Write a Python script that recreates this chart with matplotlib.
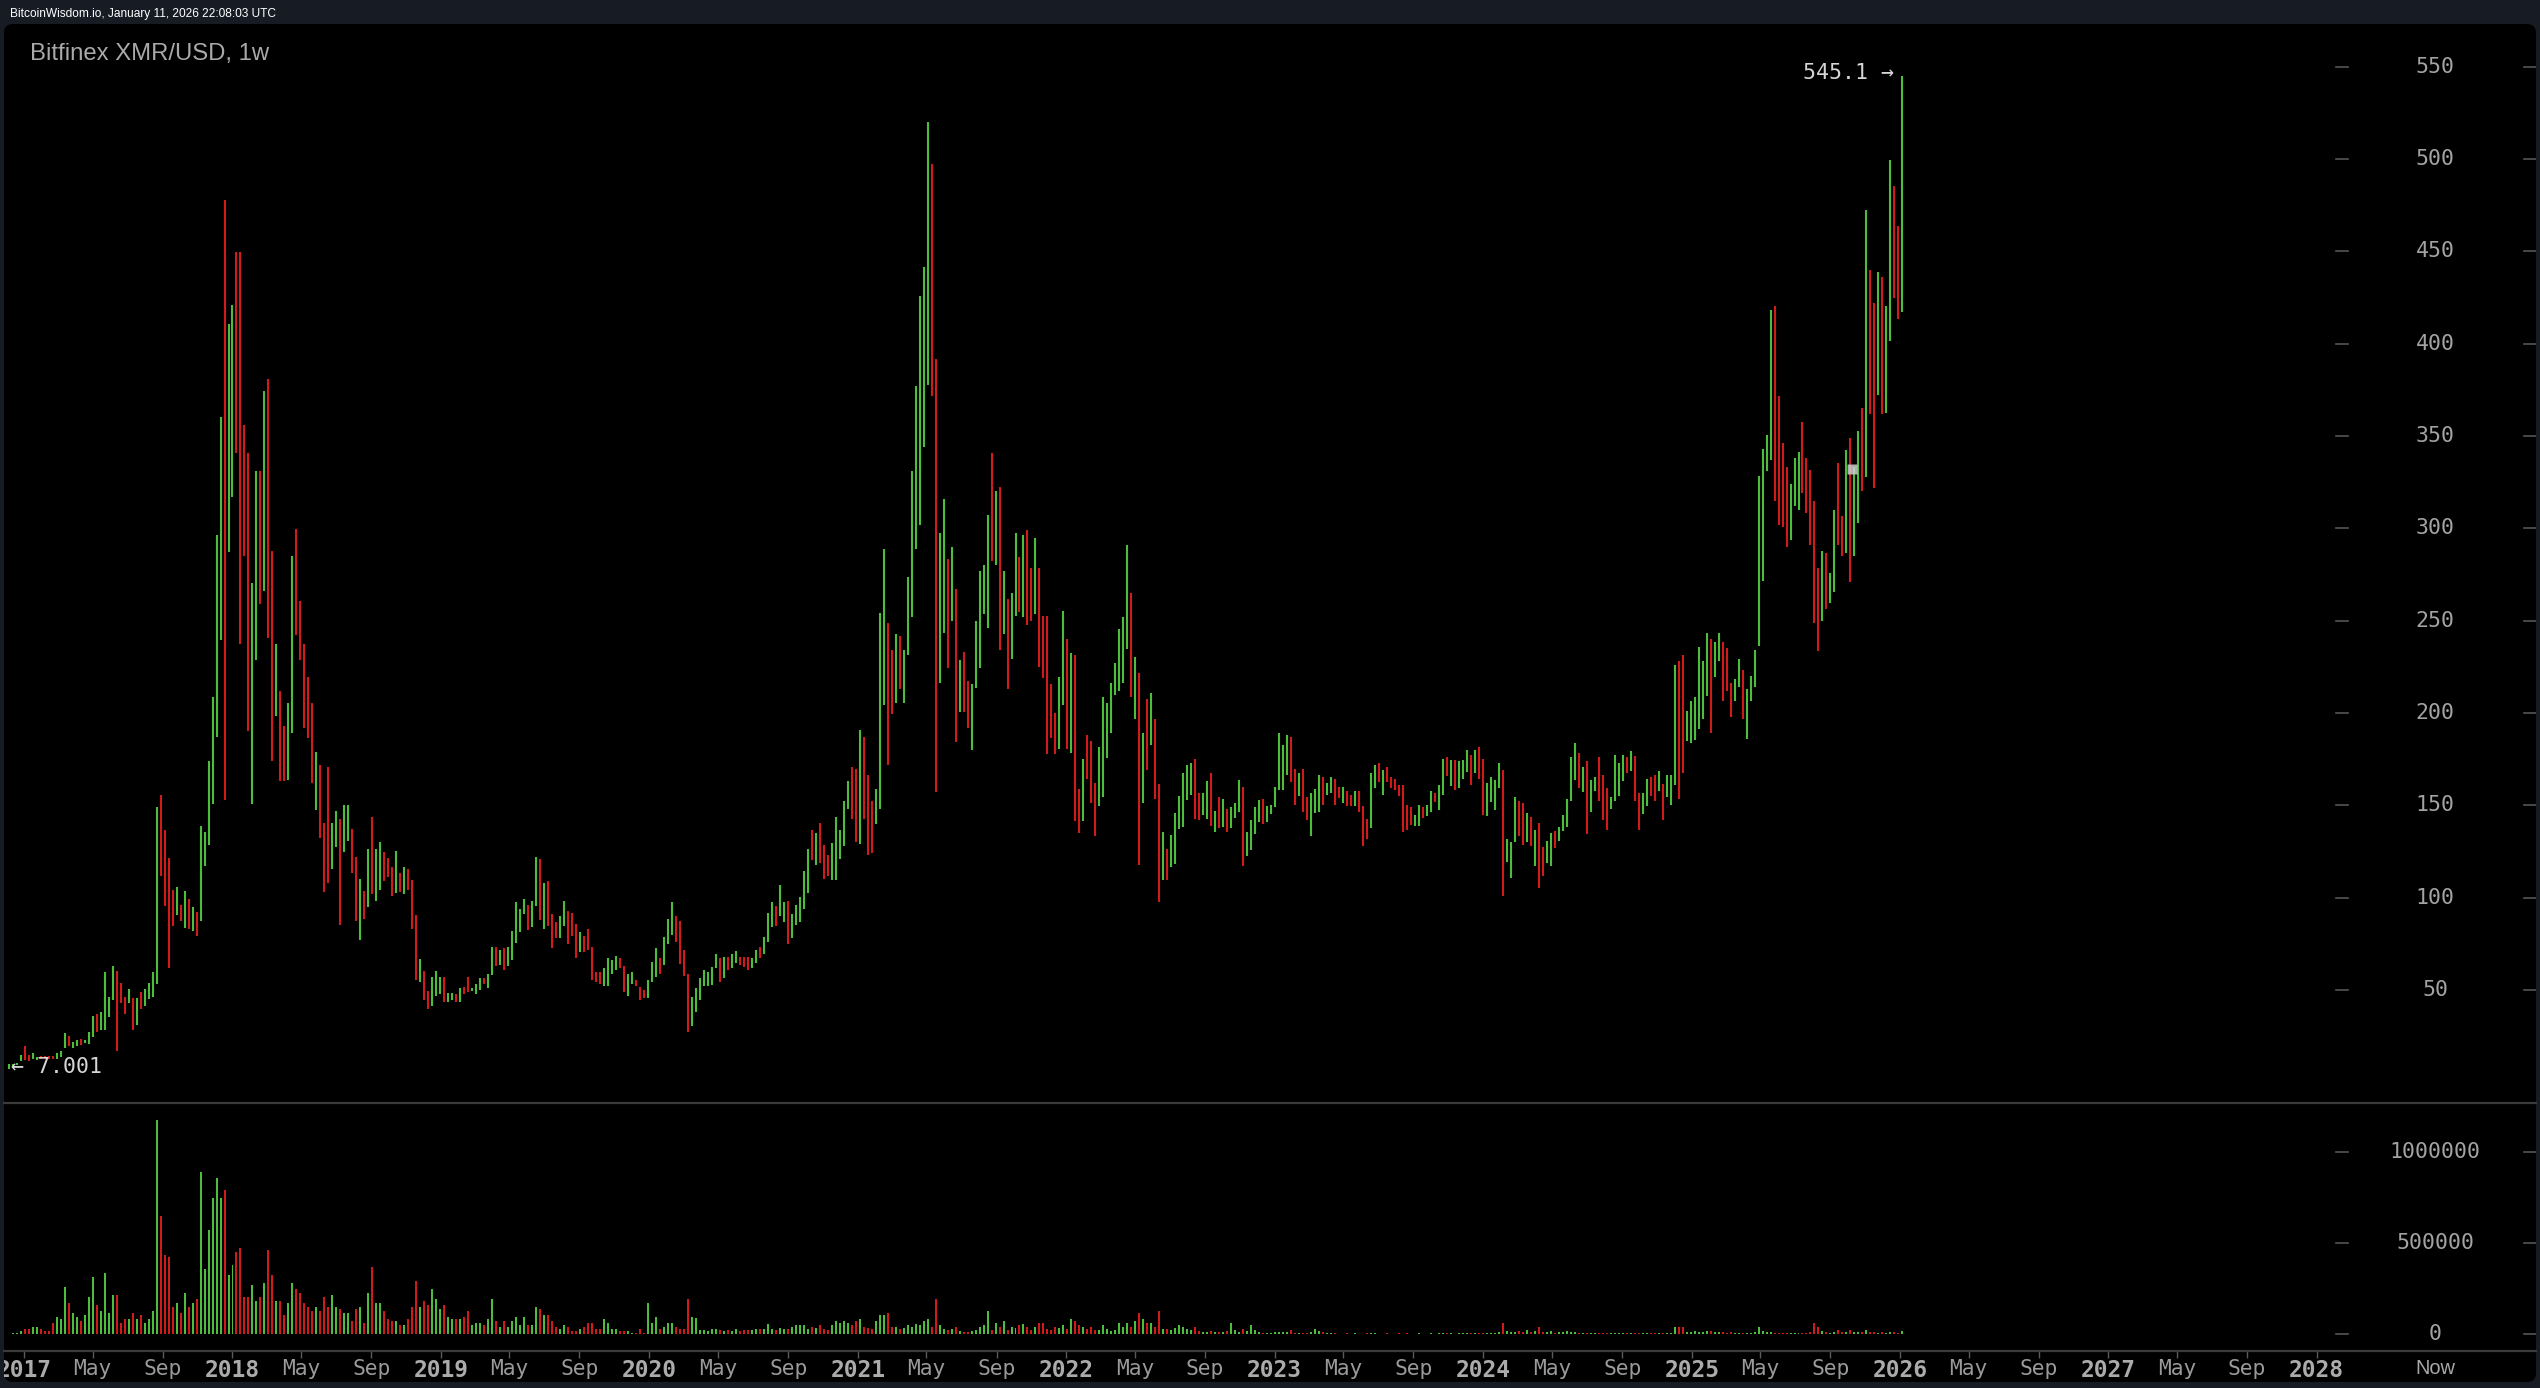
import numpy as np
import matplotlib
matplotlib.use("Agg")
import matplotlib.pyplot as plt
import matplotlib.dates as mdates
from matplotlib.patches import FancyBboxPatch
from matplotlib.transforms import Bbox, TransformedBbox, blended_transform_factory

# weekly bars of Bitfinex XMR/USD, first bar = week of 2016-12-05
first_week = '2016-12-05'

highs = [
    9.8, 10.0, 10.3, 14.8, 19.6, 14.8, 16.0, 13.8, 14.2, 14.2,
    14.0, 14.0, 16.0, 17.0, 26.6, 25.0, 21.8, 22.8, 23.4, 22.8,
    27.3, 35.6, 36.9, 37.8, 59.6, 45.9, 62.9, 60.3, 53.9, 45.9,
    50.7, 45.5, 45.5, 48.8, 50.7, 53.9, 59.6, 149.1, 155.5, 136.3,
    121.2, 104.2, 105.8, 96.2, 103.6, 99.4, 94.9, 92.3, 138.8, 135.6,
    174.1, 208.7, 296.6, 360.0, 477.7, 410.7, 421.0, 449.8, 449.8, 355.9,
    340.5, 270.3, 331.2, 331.2, 374.5, 380.6, 287.9, 237.3, 211.9, 192.7,
    205.5, 284.7, 299.8, 260.7, 237.3, 219.6, 205.5, 178.9, 171.9, 140.4,
    170.9, 140.4, 146.9, 142.7, 150.0, 150.0, 137.2, 122.2, 110.0, 103.6,
    126.0, 143.6, 126.0, 129.9, 124.4, 121.2, 116.4, 125.4, 113.2, 116.4,
    115.7, 109.3, 90.7, 66.7, 60.3, 49.1, 57.1, 60.3, 57.1, 57.1,
    48.4, 48.4, 47.5, 50.8, 51.7, 57.1, 50.8, 52.9, 56.2, 56.2,
    58.3, 73.3, 73.3, 71.5, 72.4, 73.3, 81.8, 97.3, 94.0, 99.4,
    96.2, 98.3, 121.9, 121.0, 107.9, 109.0, 90.8, 86.5, 89.9, 98.3,
    92.9, 91.7, 85.4, 81.1, 79.1, 83.2, 73.3, 59.8, 59.4, 61.6,
    67.0, 66.1, 68.3, 67.0, 62.8, 58.3, 59.4, 55.3, 51.7, 49.9,
    55.3, 65.2, 72.4, 67.0, 78.7, 88.6, 97.3, 89.9, 87.5, 71.5,
    58.3, 46.3, 50.8, 56.2, 60.7, 59.8, 62.5, 69.2, 67.0, 67.9,
    67.9, 69.2, 71.0, 67.9, 67.9, 67.9, 67.0, 71.5, 73.3, 78.7,
    91.7, 97.3, 95.3, 107.0, 97.3, 98.3, 90.8, 96.2, 100.3, 114.4,
    126.5, 136.4, 135.1, 140.5, 128.6, 123.2, 129.7, 143.6, 136.4, 152.2,
    163.3, 170.8, 169.6, 190.6, 187.1, 166.6, 152.2, 158.9, 253.9, 288.7,
    248.9, 234.1, 242.8, 241.5, 234.1, 273.8, 330.9, 376.8, 425.9, 441.3,
    520.0, 497.2, 391.7, 297.4, 316.0, 283.2, 289.9, 267.1, 228.6, 232.8,
    217.4, 215.5, 249.7, 277.0, 280.0, 307.3, 340.8, 320.2, 322.2, 277.0,
    261.9, 265.1, 297.4, 284.5, 296.1, 299.3, 278.7, 294.9, 278.7, 252.2,
    252.2, 215.5, 200.1, 219.5, 255.3, 240.0, 232.4, 231.3, 158.9, 175.1,
    188.1, 184.8, 162.1, 181.4, 208.4, 205.4, 216.2, 227.0, 245.4, 251.7,
    291.1, 264.8, 230.0, 221.6, 189.1, 207.5, 210.8, 196.8, 161.3, 135.5,
    126.5, 134.1, 146.0, 155.0, 167.6, 171.9, 173.0, 175.2, 156.8, 156.8,
    163.3, 167.6, 147.1, 154.4, 153.5, 148.1, 149.0, 151.4, 163.4, 159.8,
    135.5, 141.8, 149.0, 152.6, 153.5, 149.6, 150.3, 159.8, 189.0, 182.7,
    188.1, 186.9, 169.8, 167.6, 169.8, 154.4, 156.8, 158.9, 166.1, 165.2,
    162.2, 165.2, 164.0, 159.8, 159.8, 157.5, 155.7, 157.5, 157.5, 149.6,
    142.7, 167.6, 171.6, 173.0, 168.9, 170.6, 165.2, 164.3, 161.1, 160.7,
    150.3, 149.0, 144.9, 150.3, 149.0, 150.3, 157.5, 156.8, 161.1, 175.2,
    176.1, 174.3, 174.3, 173.7, 174.3, 179.7, 177.0, 179.7, 181.5, 175.2,
    162.2, 165.2, 163.4, 173.0, 168.9, 131.9, 129.8, 154.4, 152.1, 151.4,
    146.0, 143.6, 136.4, 140.6, 127.4, 130.6, 135.1, 136.0, 138.2, 144.8,
    153.3, 176.1, 183.7, 178.5, 170.6, 174.0, 163.4, 165.5, 176.1, 166.4,
    159.4, 154.2, 177.0, 173.1, 177.0, 176.1, 179.1, 176.7, 156.4, 156.4,
    164.0, 165.5, 166.4, 168.5, 161.5, 166.4, 166.4, 226.1, 228.2, 231.3,
    201.0, 206.4, 208.8, 235.8, 228.2, 243.4, 239.8, 238.3, 243.4, 238.3,
    235.2, 216.1, 218.5, 229.2, 223.1, 213.1, 220.1, 234.3, 328.3, 342.9,
    350.5, 418.1, 420.2, 371.7, 345.9, 332.9, 324.1, 338.3, 341.4, 357.5,
    338.3, 331.7, 314.7, 278.6, 287.7, 286.5, 275.6, 310.1, 335.3, 306.5,
    342.3, 349.0, 333.2, 352.6, 365.0, 472.4, 439.9, 421.8, 439.0, 436.3,
    420.2, 499.7, 485.4, 463.6, 545.1,
]

lows = [
    7.001, 8.8, 9.4, 11.6, 12.2, 11.6, 12.8, 12.2, 12.8, 12.8,
    12.6, 12.6, 12.8, 13.8, 18.6, 19.6, 18.6, 19.6, 20.2, 21.2,
    20.9, 24.4, 27.3, 28.2, 28.2, 35.3, 44.3, 17.0, 42.6, 36.9,
    42.6, 28.2, 30.8, 39.4, 41.0, 44.9, 45.9, 53.3, 111.6, 95.6,
    61.9, 84.3, 90.7, 87.5, 83.4, 82.7, 82.1, 79.2, 87.5, 117.0,
    128.6, 150.7, 186.9, 239.2, 152.9, 287.0, 316.8, 340.8, 237.3, 284.7,
    190.1, 150.7, 228.6, 259.0, 266.1, 240.4, 174.1, 198.1, 162.9, 162.9,
    163.5, 189.2, 242.4, 228.6, 191.7, 186.3, 161.9, 147.5, 132.4, 102.9,
    107.7, 115.4, 127.6, 85.0, 124.4, 130.8, 113.2, 87.5, 77.0, 88.2,
    94.6, 102.0, 98.1, 104.2, 109.0, 110.9, 101.0, 102.6, 102.9, 102.0,
    104.2, 82.7, 55.5, 54.5, 44.3, 39.4, 41.0, 46.8, 47.5, 43.6,
    43.6, 44.5, 43.6, 43.6, 47.5, 49.0, 49.3, 47.5, 49.9, 52.9,
    50.8, 58.0, 62.8, 63.7, 60.7, 62.8, 66.1, 75.6, 81.1, 91.3,
    82.3, 83.8, 95.3, 87.7, 83.2, 84.5, 72.4, 77.8, 77.8, 84.7,
    74.7, 79.1, 67.0, 70.6, 70.6, 71.5, 55.3, 54.4, 53.1, 52.0,
    52.0, 58.3, 60.7, 61.6, 49.0, 46.6, 52.9, 52.2, 44.5, 45.4,
    45.4, 54.4, 57.1, 58.3, 63.7, 74.7, 79.6, 76.0, 63.9, 57.4,
    27.0, 30.4, 38.2, 44.5, 52.2, 52.0, 52.6, 61.6, 54.0, 56.2,
    60.7, 62.0, 64.3, 63.7, 62.5, 60.7, 61.6, 64.3, 67.0, 69.3,
    76.0, 84.1, 84.5, 90.1, 86.5, 74.7, 77.8, 85.0, 86.5, 94.0,
    102.7, 120.2, 117.8, 118.9, 110.2, 111.5, 109.3, 109.3, 121.1, 127.7,
    148.1, 142.7, 130.1, 128.8, 142.7, 123.2, 124.3, 140.0, 148.1, 204.3,
    172.0, 199.3, 205.5, 213.0, 205.5, 231.6, 251.9, 288.7, 301.6, 343.8,
    377.5, 371.8, 157.1, 216.2, 243.5, 224.1, 249.7, 184.4, 200.6, 200.6,
    191.9, 180.0, 213.7, 224.1, 253.4, 246.0, 282.5, 280.0, 234.1, 242.8,
    213.0, 229.1, 252.7, 254.4, 251.9, 247.7, 249.7, 253.4, 224.9, 218.7,
    177.5, 186.4, 177.5, 180.6, 204.3, 180.5, 178.3, 141.7, 135.1, 141.7,
    164.3, 151.3, 133.1, 149.3, 154.7, 175.4, 189.1, 209.7, 212.0, 216.2,
    234.5, 208.8, 196.7, 117.8, 151.3, 168.8, 182.7, 153.5, 97.7, 109.4,
    109.4, 116.6, 117.9, 137.0, 138.2, 152.6, 155.7, 142.7, 141.8, 144.9,
    142.7, 138.8, 135.5, 137.7, 138.2, 135.5, 137.7, 143.1, 146.3, 117.1,
    122.5, 125.6, 134.6, 140.9, 140.0, 140.9, 145.4, 149.0, 158.0, 158.0,
    166.5, 162.5, 150.3, 155.0, 146.3, 141.8, 133.4, 146.0, 146.3, 150.3,
    155.7, 156.8, 150.3, 153.9, 151.4, 149.6, 149.6, 149.6, 146.3, 128.0,
    131.9, 137.7, 159.3, 162.5, 155.7, 162.5, 159.3, 158.0, 155.0, 135.5,
    136.4, 139.5, 138.8, 138.8, 143.1, 144.2, 146.3, 151.7, 147.2, 155.7,
    165.8, 160.4, 158.0, 159.3, 164.3, 168.0, 161.1, 167.6, 164.0, 144.9,
    144.2, 151.7, 147.2, 159.3, 100.7, 119.3, 110.6, 129.8, 133.3, 128.3,
    129.8, 128.0, 117.1, 105.2, 111.7, 118.5, 117.0, 127.0, 130.6, 136.0,
    138.2, 152.4, 163.9, 159.4, 157.3, 134.2, 146.4, 157.9, 152.4, 142.1,
    136.7, 148.2, 152.4, 154.8, 163.3, 167.6, 168.5, 152.4, 136.7, 145.2,
    149.4, 154.8, 152.4, 157.9, 142.1, 154.2, 150.3, 160.9, 153.3, 167.6,
    184.6, 183.7, 185.2, 191.2, 196.7, 209.4, 189.1, 219.4, 228.2, 206.4,
    211.9, 197.9, 206.4, 214.0, 196.7, 185.8, 206.4, 214.0, 236.1, 271.6,
    330.8, 336.8, 315.0, 302.0, 300.4, 289.8, 293.5, 312.0, 310.1, 319.2,
    308.0, 290.7, 248.9, 233.7, 249.8, 256.5, 259.5, 265.5, 290.7, 284.7,
    286.8, 270.7, 284.7, 302.9, 320.1, 327.7, 361.7, 321.7, 372.3, 361.7,
    362.6, 401.4, 424.8, 413.3, 417.2,
]

# g = week closed up, r = week closed down
moves = (
    "ggggrrggrr" "rrgggrggrg" "ggrggggrrr" "grgrggggrr" "rrgrgrgrgg"
    "ggggrggrrr" "rggrgrrgrr" "ggrrrrrgrr" "rggrggrrgr" "grggrrrgrg"
    "rrrgrrgggr" "ggrgrrgggr" "ggrgrggggg" "rggrgrrrgg" "rrrgrrrrrg"
    "gggrrggrrr" "gggrgggrrr" "rgggggggrg" "rggrrrggrg" "ggrggrgggg"
    "grgrrrgggg" "grrgrrrggg" "rrgrgggggg" "grrggrgrgr" "rgggggrgrg"
    "rggrgrrgrr" "rrrggrgrrg" "rrrggggggg" "grgrgrgrrg" "rggggggrrg"
    "grgrgrgggr" "ggggrggggg" "grrgrrgggr" "ggrrgrrgrr" "rggrgrrrrr"
    "rrggrggrgg" "rgrgggrgrr" "ggggrgggrr" "grgrrggrgg" "gggrgrggrr"
    "rggggrgrrg" "grrgrgggrr" "ggggggrggr" "rrggrggggg" "ggrrrrgggr"
    "rrrrgrggrr" "grggrgrrgr" "ggrrg"
)

# weekly volume, thousands
volumes_k = [
    3, 7, 7, 18, 29, 29, 40, 40, 29, 18,
    18, 62, 95, 84, 260, 172, 117, 95, 73, 106,
    206, 316, 161, 128, 338, 117, 217, 217, 62, 84,
    84, 117, 84, 106, 62, 84, 128, 1174, 646, 437,
    426, 150, 172, 117, 228, 150, 172, 195, 888, 358,
    569, 745, 855, 745, 789, 327, 382, 448, 470, 206,
    206, 272, 184, 206, 283, 459, 327, 184, 184, 106,
    172, 283, 250, 228, 172, 150, 128, 150, 128, 206,
    150, 217, 150, 139, 117, 117, 73, 139, 150, 62,
    228, 371, 172, 172, 128, 84, 73, 73, 51, 51,
    84, 150, 294, 150, 184, 161, 250, 195, 139, 161,
    95, 84, 84, 84, 95, 128, 51, 62, 62, 51,
    84, 195, 73, 40, 73, 40, 73, 95, 51, 95,
    51, 51, 150, 139, 106, 106, 73, 40, 29, 51,
    40, 18, 18, 29, 40, 62, 62, 29, 29, 84,
    62, 29, 29, 18, 18, 18, 7, 7, 29, 7,
    172, 62, 95, 29, 40, 62, 62, 40, 29, 29,
    195, 95, 92, 26, 26, 18, 29, 29, 26, 20,
    26, 18, 29, 18, 26, 26, 22, 29, 29, 29,
    55, 29, 26, 33, 29, 29, 40, 51, 51, 51,
    29, 40, 33, 51, 29, 26, 51, 73, 62, 73,
    62, 51, 73, 84, 40, 33, 29, 73, 106, 106,
    117, 40, 40, 29, 33, 51, 40, 55, 51, 73,
    84, 40, 195, 51, 29, 22, 29, 40, 18, 11,
    11, 18, 22, 40, 51, 128, 26, 62, 40, 73,
    26, 40, 33, 51, 55, 40, 22, 40, 62, 62,
    29, 22, 40, 33, 51, 29, 84, 73, 51, 40,
    29, 40, 26, 22, 51, 29, 18, 22, 62, 40,
    62, 40, 73, 117, 84, 62, 62, 40, 128, 29,
    29, 26, 33, 51, 40, 29, 22, 40, 18, 15,
    11, 18, 15, 11, 15, 18, 62, 22, 15, 29,
    18, 51, 26, 15, 9, 9, 9, 11, 15, 15,
    11, 22, 9, 7, 7, 7, 15, 29, 18, 15,
    7, 5, 5, 4, 4, 5, 4, 5, 4, 4,
    5, 7, 5, 4, 4, 5, 4, 4, 5, 4,
    5, 4, 4, 5, 4, 4, 5, 4, 5, 7,
    5, 5, 4, 5, 5, 7, 5, 5, 7, 7,
    9, 7, 9, 11, 64, 18, 15, 15, 18, 15,
    26, 11, 18, 40, 15, 11, 18, 9, 15, 11,
    18, 15, 11, 9, 9, 9, 7, 7, 9, 7,
    7, 9, 7, 7, 7, 9, 7, 9, 7, 7,
    9, 7, 7, 7, 9, 7, 9, 40, 40, 40,
    15, 15, 18, 15, 11, 18, 18, 11, 11, 11,
    9, 11, 9, 9, 9, 9, 9, 11, 40, 18,
    11, 15, 9, 9, 9, 9, 9, 9, 9, 9,
    9, 15, 62, 40, 18, 15, 9, 15, 22, 15,
    15, 22, 11, 15, 11, 22, 15, 11, 9, 15,
    9, 15, 11, 9, 18,
]

price_ticks = [50, 100, 150, 200, 250, 300, 350, 400, 450, 500, 550]
volume_ticks = [0, 500000, 1000000]
tick_years = list(range(2017, 2029))
tick_months = [(5, 'May'), (9, 'Sep')]

stamp = 'BitcoinWisdom.io, January 11, 2026 22:08:03 UTC'
title = 'Bitfinex XMR/USD, 1w'
cursor_date, cursor_price = '2025-10-09', 332

n = len(highs)
assert n == len(lows) == len(moves) == len(volumes_k), (n, len(lows), len(moves), len(volumes_k))

GREEN = '#4dbd3c'
RED = '#d11a1a'
cols = [GREEN if m == 'g' else RED for m in moves]
dates = mdates.date2num(np.datetime64(first_week) + np.arange(n) * np.timedelta64(7, 'D'))
volume = np.array(volumes_k) * 1000

W, H = 2540, 1388
def fx(px):
    return px / W
def fy(py):
    return 1 - py / H

fig = plt.figure(figsize=(W / 100, H / 100), dpi=100, facecolor='#171b24')

# black rounded panel, kept behind the axes
fig.patches.append(FancyBboxPatch((fx(4), fy(1382)), 2532 / W, (1382 - 24) / H,
                                  boxstyle='round,pad=0,rounding_size=%f' % (9 / W),
                                  mutation_aspect=W / H, transform=fig.transFigure,
                                  facecolor='black', edgecolor='none', zorder=-5))

ax = fig.add_axes([fx(4), fy(1103), 2532 / W, (1103 - 24) / H])
axv = fig.add_axes([fx(4), fy(1350.7), 2532 / W, (1350.7 - 1103) / H], sharex=ax)

# x scale: 2018-01-01 sits at px 232.5, 0.5707 px per day
base = mdates.date2num(np.datetime64('2018-01-01'))
def x_at(px):
    return base + (px - 232.5) / 0.5707
ax.set_xlim(x_at(4), x_at(2536))
ax.set_ylim(-11.3, 573.1)
axv.set_ylim(-89800, 1266700)

for a in (ax, axv):
    a.set_facecolor('none')
    for s in a.spines.values():
        s.set_visible(False)
    a.spines['bottom'].set_visible(True)
    a.spines['bottom'].set_color('#3b3b3b')
    a.spines['bottom'].set_linewidth(1.6)
    a.tick_params(left=False, labelleft=False)

ax.tick_params(bottom=False, labelbottom=False)

# price bars
ax.vlines(dates, lows, highs, colors=cols, linewidth=1.5)
# volume bars
axv.bar(dates, volume, width=3.5, color=cols, linewidth=0)

mono = 'DejaVu Sans Mono'
label_x = (2435 - 4) / 2532
d0, d1 = (2336 - 4) / 2532, (2348 - 4) / 2532
d2 = (2524 - 4) / 2532
for a, vals in ((ax, price_ticks), (axv, volume_ticks)):
    tr = blended_transform_factory(a.transAxes, a.transData)
    for v in vals:
        a.text(label_x, v, str(v), transform=tr, ha='center', va='center',
               fontsize=15.5, family=mono, color='#a3a3a3')
        a.axhline(v, xmin=d0, xmax=d1, color='#555555', lw=1.2)
        a.axhline(v, xmin=d2, xmax=1, color='#555555', lw=1.2)

# time axis labels (months stop at the last labelled year)
tick_pos, tick_lab = [], []
for yr in tick_years:
    tick_pos.append(mdates.date2num(np.datetime64(f'{yr}-01-01')))
    tick_lab.append(str(yr))
    if yr == tick_years[-1]:
        break
    for mo, name in tick_months:
        tick_pos.append(mdates.date2num(np.datetime64(f'{yr}-{mo:02d}-01')))
        tick_lab.append(name)
axv.set_xticks(tick_pos)
axv.set_xticklabels(tick_lab)
axv.tick_params(axis='x', direction='out', length=5, width=1, color='#5a5a5a', pad=1)
clip = TransformedBbox(Bbox([[fx(4), 0], [fx(2536), 1]]), fig.transFigure)
for lbl in axv.get_xticklabels():
    lbl.set_family(mono)
    if lbl.get_text().isdigit():
        lbl.set_fontweight('bold')
        lbl.set_fontsize(16.5)
        lbl.set_color('#ababab')
    else:
        lbl.set_fontsize(15.3)
        lbl.set_color('#9a9a9a')
    lbl.set_clip_box(clip)
    lbl.set_clip_on(True)

fig.text(fx(2435), fy(1368), 'Now', ha='center', va='center', fontsize=14.4,
         family='Liberation Sans', color='#a8a8a8')

# extreme markers
imax = int(np.argmax(highs))
imin = int(np.argmin(lows))
ax.annotate(f'{highs[imax]:g} \u2192', xy=(dates[imax], highs[imax]), xytext=(-8, 3),
            textcoords='offset pixels', ha='right', va='center', fontsize=15.5,
            family=mono, color='#d6d6d6')
ax.annotate(f'\u2190 {lows[imin]:.3f}', xy=(dates[imin], lows[imin]), xytext=(2, 2),
            textcoords='offset pixels', ha='left', va='center', fontsize=15.5,
            family=mono, color='#d6d6d6')

# crosshair cursor square
ax.plot(mdates.date2num(np.datetime64(cursor_date)), cursor_price, marker='s', ms=6.5,
        color='#d0d0d0', alpha=0.85, mec='none')

fig.text(fx(30), fy(60), title, ha='left', va='baseline', fontsize=17.2,
         family='Liberation Sans', color='#a9a9a9')
fig.text(fx(10), fy(17.5), stamp, ha='left', va='baseline', fontsize=8.6,
         family='Liberation Sans', color='white')

fig.savefig('out.png', dpi=100, facecolor=fig.get_facecolor())
